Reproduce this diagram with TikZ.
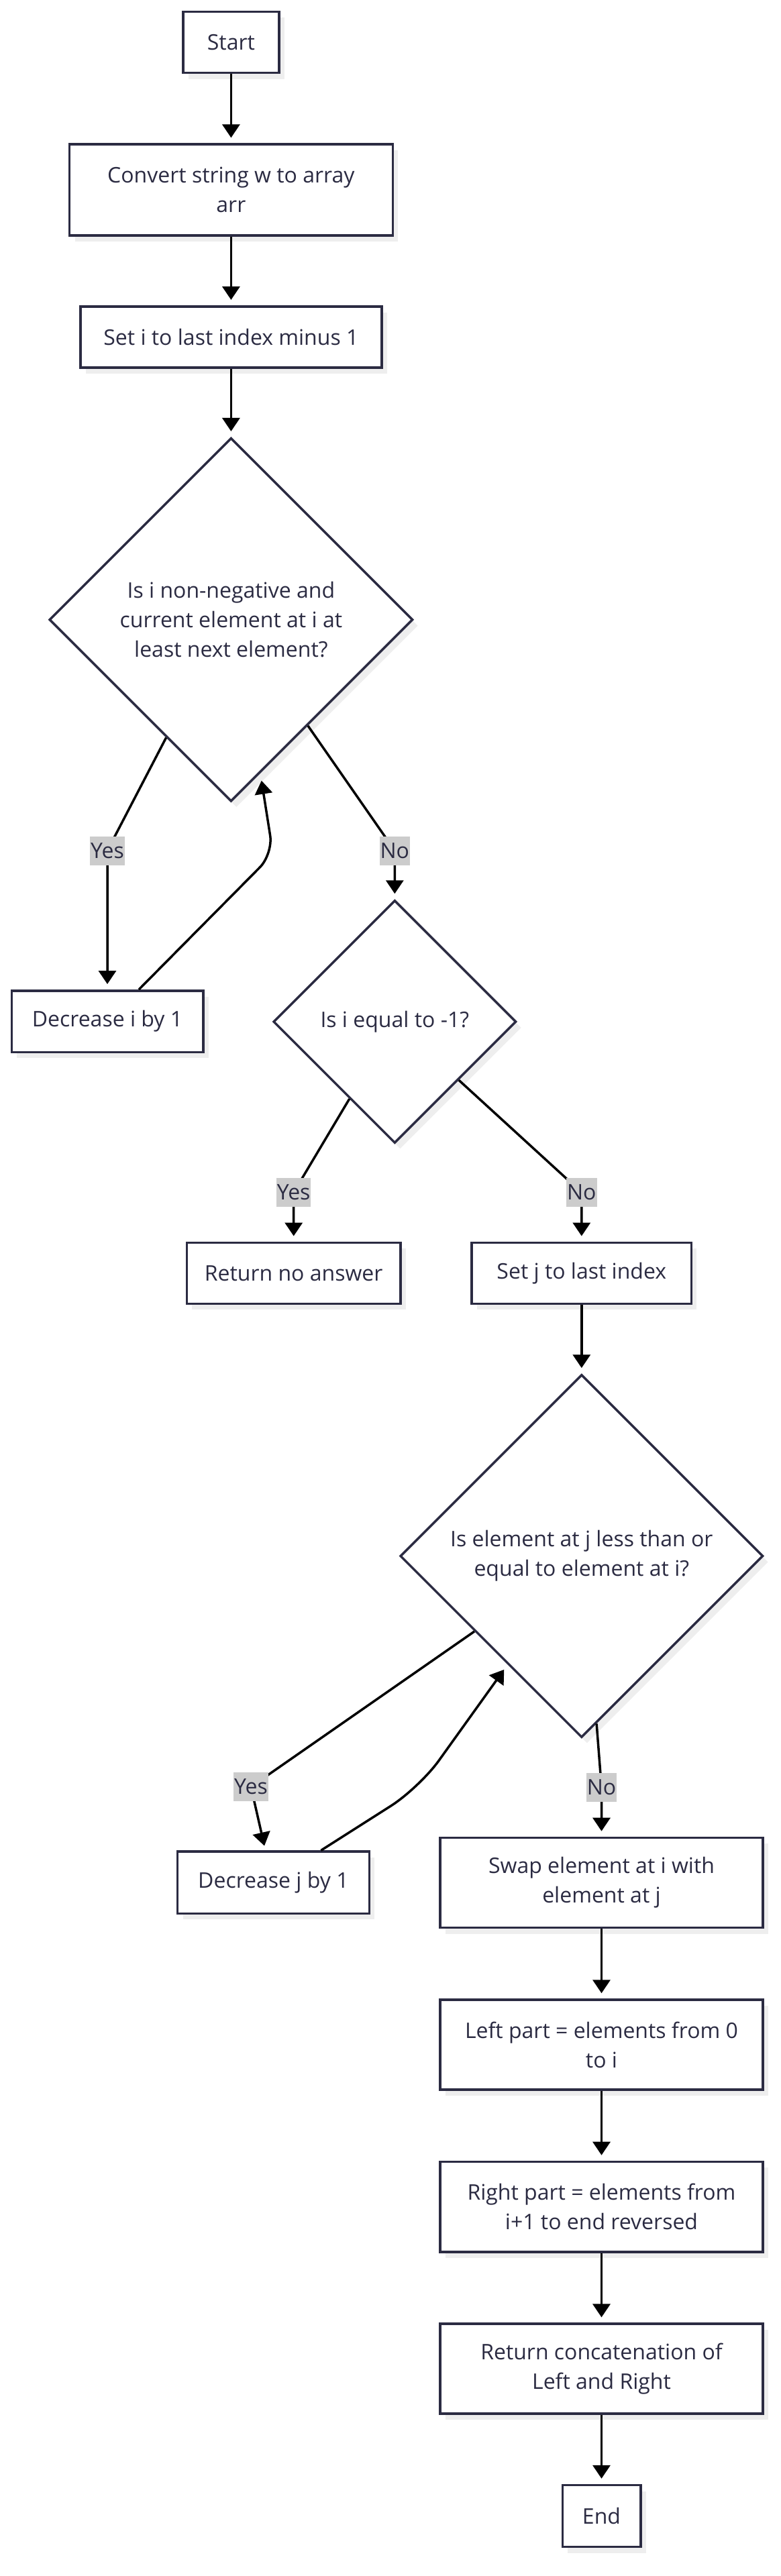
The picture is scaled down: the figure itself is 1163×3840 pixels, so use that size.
\documentclass[tikz,border=0pt]{standalone}
\usepackage{fontspec}
\setmainfont{Open Sans}
\usetikzlibrary{arrows.meta,shapes.geometric,calc,shadows}
\definecolor{ink}{HTML}{2B2B42}
\definecolor{lblbg}{HTML}{CCCCCC}
\definecolor{shade}{HTML}{EEEEEE}
\begin{document}
\begin{tikzpicture}[x=1pt,y=-1pt,
  every node/.style={font=\fontsize{32}{44}\selectfont, text=ink},
  box/.style={draw=ink, line width=3.5pt, fill=white, rectangle, align=center, inner sep=0pt,
    general shadow={fill=shade, shadow xshift=8pt, shadow yshift=-9pt}},
  dia/.style={draw=ink, line width=3.5pt, fill=white, diamond, aspect=1, align=center, inner sep=0pt,
    general shadow={fill=shade, shadow xshift=8pt, shadow yshift=-9pt}},
  lbl/.style={fill=lblbg, inner xsep=1pt, inner ysep=0pt, minimum height=43pt},
  conn/.style={draw=black, line width=3.5pt, -{Triangle[length=20pt,width=26pt]}, shorten >=8pt},
]
\useasboundingbox (0,0) rectangle (1163,3840);

% nodes
\node[box, minimum width=142.7pt, minimum height=91.2pt] (start) at (344.4,63) {Start};
\node[box, minimum width=481.7pt, minimum height=135.8pt] (convert) at (344.4,283) {Convert string w to array\\arr};
\node[box, minimum width=449pt, minimum height=91.1pt] (seti) at (344.4,502.3) {Set i to last index minus 1};
\node[dia, minimum width=542pt, minimum height=542pt] (d1) at (344.4,923.7) {Is i non-negative and\\current element at i at\\least next element?};
\node[box, minimum width=285.5pt, minimum height=91.5pt] (deci) at (160,1522.5) {Decrease i by 1};
\node[dia, minimum width=362pt, minimum height=362pt] (d2) at (588.3,1523) {Is i equal to -1?};
\node[box, minimum width=318.5pt, minimum height=91pt] (retno) at (437.7,1897.8) {Return no answer};
\node[box, minimum width=327.3pt, minimum height=91pt] (setj) at (866.8,1897.8) {Set j to last index};
\node[dia, minimum width=541pt, minimum height=541pt] (d3) at (866.8,2319.5) {Is element at j less than or\\equal to element at i?};
\node[box, minimum width=285.8pt, minimum height=92.2pt] (decj) at (407.4,2806.2) {Decrease j by 1};
\node[box, minimum width=481pt, minimum height=134.2pt] (swap) at (896.5,2806.5) {Swap element at i with\\element at j};
\node[box, minimum width=481pt, minimum height=134pt] (leftp) at (896.5,3048) {Left part = elements from 0\\to i};
\node[box, minimum width=481pt, minimum height=134.4pt] (rightp) at (896.5,3289.6) {Right part = elements from\\i+1 to end reversed};
\node[box, minimum width=481pt, minimum height=133.8pt] (concat) at (896.5,3531) {Return concatenation of\\Left and Right};
\node[box, minimum width=116.5pt, minimum height=92pt] (endn) at (896.5,3750.5) {End};

% label anchor points (centres of the edge labels)
\coordinate (py1) at (160,1268);
\coordinate (pn1) at (588.3,1268);
\coordinate (py2) at (437.7,1777.5);
\coordinate (pn2) at (866.8,1777.5);
\coordinate (py3) at (374,2663.6);
\coordinate (pn3) at (896.5,2664);

% connectors
\draw[conn] (start.south) -- (convert.north);
\draw[conn] (convert.south) -- (seti.north);
\draw[conn] (seti.south) -- (d1.north);

\draw[conn, rounded corners=14pt] ($(d1.west)!0.645!(d1.south)$) -- (py1) -- (deci.north);
\draw[conn, shorten >=11pt, rounded corners=28pt] ([xshift=47pt]deci.north) -- (407,1273) -- ($(d1.south)!0.16!(d1.east)$);
\draw[conn, rounded corners=14pt] ($(d1.south)!0.42!(d1.east)$) -- (pn1) -- (d2.north);

\draw[conn, rounded corners=14pt] ($(d2.west)!0.63!(d2.south)$) -- (py2) -- (retno.north);
\draw[conn, rounded corners=14pt] ($(d2.east)!0.477!(d2.south)$) -- (pn2) -- (setj.north);

\draw[conn] (setj.south) -- (d3.north);

\draw[conn, shorten >=7pt] ($(d3.west)!0.413!(d3.south)$) -- (py3) -- ([xshift=-11.8pt]decj.north);
\draw[conn, shorten >=9pt, rounded corners=50pt] ([xshift=71pt]decj.north) -- (625,2665) -- ($(d3.west)!0.595!(d3.south)$);
\draw[conn] ($(d3.south)!0.082!(d3.east)$) -- (pn3) -- (swap.north);

\draw[conn] (swap.south) -- (leftp.north);
\draw[conn] (leftp.south) -- (rightp.north);
\draw[conn] (rightp.south) -- (concat.north);
\draw[conn] (concat.south) -- (endn.north);

% edge labels
\node[lbl] (yes1) at (py1) {Yes};
\node[lbl] (no1) at (pn1) {No};
\node[lbl] (yes2) at (py2) {Yes};
\node[lbl] (no2) at (pn2) {No};
\node[lbl] (yes3) at (py3) {Yes};
\node[lbl] (no3) at (pn3) {No};
\end{tikzpicture}
\end{document}
